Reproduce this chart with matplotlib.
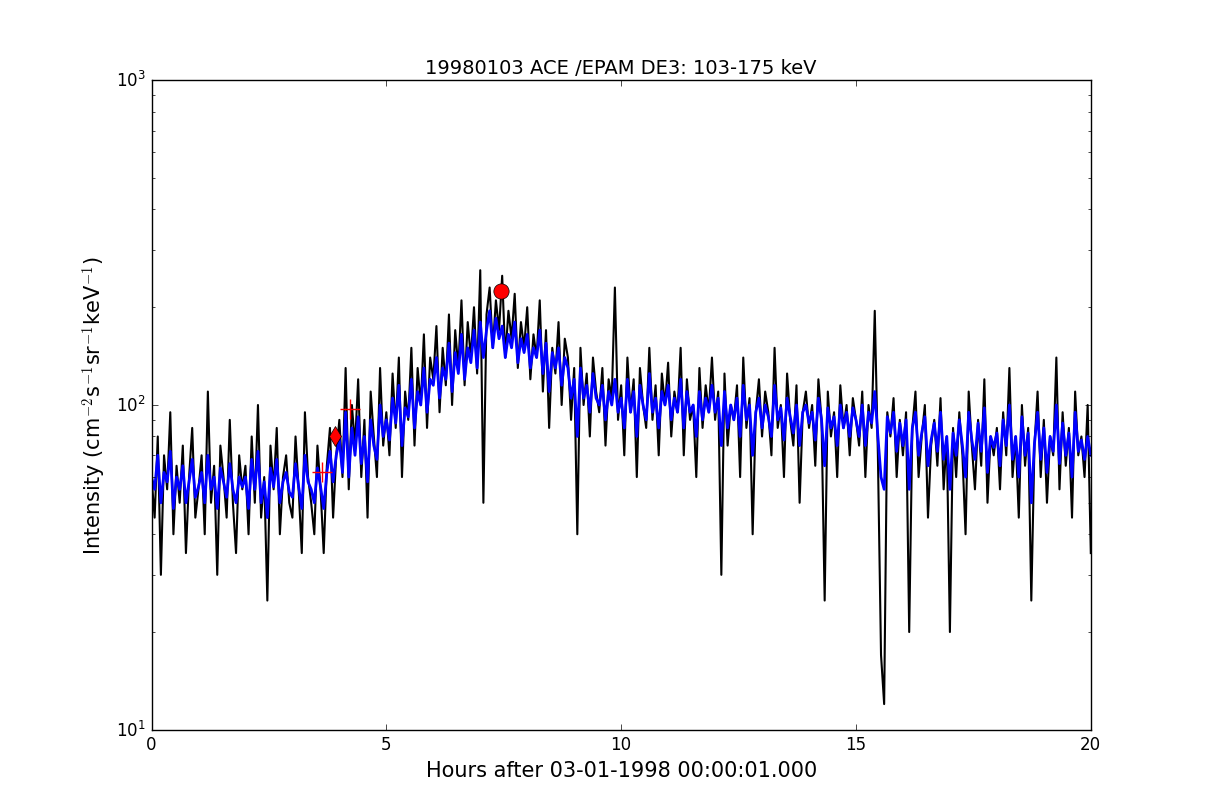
import numpy as np
import matplotlib
matplotlib.use("Agg")
import matplotlib.pyplot as plt

black = [
60,45,80,30,70,55,95,40,65,50,75,35,60,85,45,
55,70,40,110,50,65,30,75,60,45,90,50,35,70,55,
65,40,80,50,100,45,60,25,75,55,85,40,60,70,50,
45,80,55,35,95,60,50,40,75,55,35,65,85,45,70,
90,60,130,55,100,75,120,60,90,45,110,80,60,130,75,
95,70,125,85,140,60,110,90,150,75,130,100,165,85,140,
120,175,95,150,115,190,100,170,130,210,115,180,140,200,125,
260,50,190,230,150,210,170,250,140,195,160,220,130,180,150,
200,120,165,140,210,110,170,85,150,125,180,100,160,140,90,
130,40,150,100,125,80,140,110,95,130,75,120,105,230,90,
115,70,140,95,120,60,130,100,85,150,90,115,70,125,100,
135,80,110,95,150,70,120,90,100,60,130,85,115,95,140,
90,110,30,125,75,100,90,115,60,140,85,105,40,95,120,
80,110,95,70,150,85,100,60,125,90,75,115,50,95,110,
85,100,65,120,90,25,110,80,95,60,115,85,100,70,105,
90,75,110,60,100,85,195,70,17,12,95,80,105,60,90,
70,95,20,85,110,60,80,100,45,75,90,65,105,55,80,
20,85,60,95,70,40,110,75,55,90,65,120,50,80,70,
85,55,95,70,130,60,80,45,100,65,85,25,75,110,60,
90,50,80,70,140,55,95,65,85,45,110,70,80,60,100,
35]

blue = [
60,55,70,50,62,58,72,48,60,55,65,50,58,68,52,
56,62,50,70,55,60,48,64,58,52,66,55,50,60,56,
60,48,68,55,72,50,58,45,64,56,68,50,58,62,54,
52,66,56,48,70,58,55,50,64,56,48,62,72,58,70,
78,62,95,60,85,70,92,66,80,58,90,75,68,100,80,
90,78,105,88,115,75,98,92,120,85,110,100,130,95,120,
115,140,105,130,120,155,110,145,125,165,120,150,135,170,130,
180,140,170,195,150,185,160,175,140,165,150,180,135,160,145,
165,130,150,140,170,125,155,110,145,130,150,115,140,130,105,
120,80,130,105,115,95,125,105,100,115,90,110,100,120,95,
105,85,120,95,110,80,115,100,90,125,95,105,85,110,100,
115,90,105,95,120,85,110,95,100,80,110,90,105,95,115,
95,105,75,110,85,100,90,105,80,115,90,100,70,95,105,
85,100,92,80,115,90,98,78,105,92,82,100,75,95,100,
88,95,78,105,90,65,98,85,92,75,100,85,95,80,98,
90,80,100,75,95,88,110,80,60,55,92,82,95,72,88,
75,90,55,85,95,70,82,92,65,78,88,72,95,68,80,
55,82,70,90,75,60,95,78,68,88,72,98,62,80,74,
82,65,90,75,100,68,80,60,92,70,82,50,76,95,68,
85,62,80,72,100,66,88,70,82,60,95,72,78,68,80,
70]

step_hours = 4 / 60
t_black = np.arange(len(black)) * step_hours
t_blue = np.arange(len(blue)) * step_hours

onset_t, onset_v = 3.9, 80
peak_t, peak_v = 7.45, 225
plus_t = [3.62, 4.22]
plus_v = [62, 97]

plt.style.use("classic")
fig = plt.figure(figsize=(12.12, 8.12), dpi=100)
ax = fig.add_axes([0.125, 0.1, 0.775, 0.8])
ax.plot(t_black, black, color="black", lw=1.5)
ax.plot(t_blue, blue, color="blue", lw=2)
ax.plot(plus_t, plus_v, "r+", ms=14, mew=1)
ax.plot([onset_t], [onset_v], "rd", ms=10)
ax.plot([peak_t], [peak_v], "ro", ms=11)
ax.set_yscale("log")
ax.set_xlim(0, 20)
ax.set_ylim(10, 1000)
ax.set_title("19980103 ACE /EPAM DE3: 103-175 keV", fontsize=14)
ax.set_xlabel("Hours after 03-01-1998 00:00:01.000", fontsize=15)
ax.set_ylabel(r"Intensity (cm$^{-2}$s$^{-1}$sr$^{-1}$keV$^{-1}$)", fontsize=15)
fig.savefig("out.png", dpi=100)
